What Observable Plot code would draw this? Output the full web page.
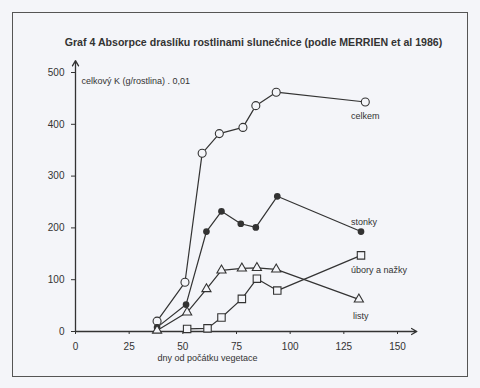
<!DOCTYPE html>
<html>
<head>
<meta charset="utf-8">
<script src="https://cdn.jsdelivr.net/npm/d3@7"></script>
<script src="https://cdn.jsdelivr.net/npm/@observablehq/plot@0.6"></script>
<style>
  html, body { margin: 0; padding: 0; background: #f4f5f9; }
  #wrap { position: relative; width: 480px; height: 388px; }
  #border { position: absolute; left: 12px; top: 12px; width: 454px; height: 363px; border: 1.5px solid #555; pointer-events: none; }
  svg { font-family: "Liberation Sans", Arial, sans-serif; }
</style>
</head>
<body>
<div id="wrap"><div id="border"></div></div>
<script>
const titleText = "Graf 4 Absorpce draslíku rostlinami slunečnice (podle MERRIEN et al 1986)";
const xLabel = "dny od počátku vegetace";
const yLabel = "celkový K (g/rostlina) . 0,01";
const xTicks = [0, 25, 50, 75, 100, 125, 150];
const yTicks = [0, 100, 200, 300, 400, 500];
const seriesNames = ["celkem", "stonky", "úbory a nažky", "listy"];

const celkemDays = [38, 51, 59, 67, 78, 84, 93.5, 135];
const celkemK    = [20, 95, 344, 382, 394, 436, 462, 443];
const stonkyDays = [38, 51.5, 61, 68, 77, 84, 94, 133];
const stonkyK    = [8, 52, 193, 232, 208, 201, 261, 193];
const uboryDays  = [52, 61.5, 68, 77.5, 84.5, 94, 133];
const uboryK     = [5, 6, 27, 63, 102, 79, 147];
const listyDays  = [38, 52, 61, 68, 77.5, 84.5, 93.5, 132];
const listyK     = [2, 37, 82, 118, 122, 123, 120, 62];

const mk = (name, days, vals) => days.map((d, i) => ({series: name, day: d, k: vals[i]}));
const celkem = mk(seriesNames[0], celkemDays, celkemK);
const stonky = mk(seriesNames[1], stonkyDays, stonkyK);
const ubory  = mk(seriesNames[2], uboryDays, uboryK);
const listy  = mk(seriesNames[3], listyDays, listyK);

const ink = "#333";
const bg = "#f4f5f9";
const labelOffsets = {
  "celkem": [0, 14],
  "stonky": [3, -9],
  "úbory a nažky": [18, 15],
  "listy": [2, 17]
};
const lastOf = arr => arr[arr.length - 1];

const chart = Plot.plot({
  width: 480,
  height: 388,
  marginLeft: 75,
  marginRight: 83,
  marginTop: 72,
  marginBottom: 57,
  style: {background: "transparent", color: ink, fontFamily: "Liberation Sans, Arial, sans-serif"},
  x: {domain: [0, 150]},
  y: {domain: [0, 500]},
  marks: [
    Plot.arrow([{x1: 0, y1: 0, x2: 0, y2: 523}], {x1: "x1", y1: "y1", x2: "x2", y2: "y2", stroke: ink, strokeWidth: 1.3, headLength: 7}),
    Plot.arrow([{x1: 0, y1: 0, x2: 159, y2: 0}], {x1: "x1", y1: "y1", x2: "x2", y2: "y2", stroke: ink, strokeWidth: 1.3, headLength: 7}),
    Plot.axisX({ticks: xTicks, tickSize: 3, tickPadding: 8, fontSize: 10, stroke: ink, label: null}),
    Plot.axisY({ticks: yTicks, tickSize: 4, tickPadding: 7, fontSize: 10, stroke: ink, label: null}),
    Plot.line(celkem, {x: "day", y: "k", stroke: ink, strokeWidth: 1.2}),
    Plot.line(stonky, {x: "day", y: "k", stroke: ink, strokeWidth: 1.2}),
    Plot.line(ubory,  {x: "day", y: "k", stroke: ink, strokeWidth: 1.2}),
    Plot.line(listy,  {x: "day", y: "k", stroke: ink, strokeWidth: 1.2}),
    Plot.dot(celkem, {x: "day", y: "k", symbol: "circle", r: 4, stroke: ink, fill: bg, strokeWidth: 1.1}),
    Plot.dot(stonky, {x: "day", y: "k", symbol: "circle", r: 2.6, fill: ink, stroke: ink}),
    Plot.dot(ubory,  {x: "day", y: "k", symbol: "square", r: 4.2, stroke: ink, fill: bg, strokeWidth: 1.1}),
    Plot.dot(listy,  {x: "day", y: "k", symbol: "triangle", r: 3.4, stroke: ink, fill: bg, strokeWidth: 1.1}),
    ...[celkem, stonky, ubory, listy].map(s => {
      const p = lastOf(s);
      const [dx, dy] = labelOffsets[p.series];
      return Plot.text([p], {x: "day", y: "k", text: "series", dx, dy, fontSize: 9, fill: ink});
    }),
    Plot.text([titleText], {frameAnchor: "top", dx: 17, dy: -34, fontSize: 10.6, fontWeight: "bold", fill: ink}),
    Plot.text([yLabel], {frameAnchor: "top-left", textAnchor: "start", dx: 6, dy: 5, fontSize: 9, fill: ink}),
    Plot.text([xLabel], {frameAnchor: "bottom", dx: -29, dy: 29, fontSize: 9, fill: ink})
  ]
});
document.getElementById("wrap").prepend(chart);
</script>
</body>
</html>
